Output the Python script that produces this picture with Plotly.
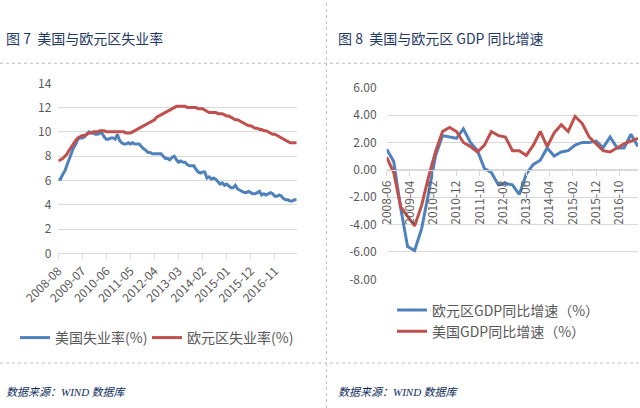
import plotly.graph_objects as go

# ---------------- data ----------------
# Figure 7: monthly unemployment, 2008-08 .. 2017-09
us_unemp = [6.1, 6.1, 6.5, 6.8, 7.3,
            7.8, 8.3, 8.7, 9.0, 9.4, 9.5, 9.5, 9.6, 9.8, 10.0, 9.9, 9.9,
            9.8, 9.8, 9.9, 9.9, 9.6, 9.4, 9.4, 9.5, 9.5, 9.4, 9.8, 9.3,
            9.1, 9.0, 9.0, 9.1, 9.0, 9.1, 9.0, 9.0, 9.0, 8.8, 8.6, 8.5,
            8.3, 8.3, 8.2, 8.2, 8.2, 8.2, 8.2, 8.0, 7.8, 7.8, 7.7, 7.9,
            8.0, 7.7, 7.5, 7.6, 7.5, 7.5, 7.3, 7.2, 7.2, 7.2, 6.9, 6.7,
            6.6, 6.7, 6.7, 6.2, 6.3, 6.1, 6.2, 6.1, 5.9, 5.7, 5.8, 5.6,
            5.7, 5.5, 5.4, 5.4, 5.6, 5.3, 5.2, 5.1, 5.0, 5.0, 5.1, 5.0,
            4.9, 4.9, 5.0, 5.1, 4.8, 4.9, 4.8, 4.9, 5.0, 4.9, 4.7, 4.7,
            4.8, 4.7, 4.5, 4.4, 4.4, 4.3, 4.3, 4.4, 4.4]
ez_unemp = [7.6, 7.7, 7.8, 8.0, 8.2,
            8.5, 8.8, 9.1, 9.3, 9.5, 9.6, 9.7, 9.7, 9.8, 9.9, 9.9, 10.0,
            10.0, 10.0, 10.1, 10.1, 10.1, 10.0, 10.0, 10.0, 10.0, 10.0, 10.0, 10.0,
            10.0, 10.0, 9.9, 9.9, 9.9, 10.0, 10.1, 10.2, 10.3, 10.4, 10.5, 10.6,
            10.7, 10.8, 10.9, 11.0, 11.2, 11.3, 11.4, 11.5, 11.6, 11.7, 11.8, 11.9,
            12.0, 12.1, 12.1, 12.1, 12.1, 12.1, 12.0, 12.0, 12.0, 12.0, 12.0, 11.9,
            11.9, 11.9, 11.8, 11.7, 11.6, 11.6, 11.6, 11.6, 11.5, 11.5, 11.5, 11.4,
            11.3, 11.3, 11.2, 11.1, 11.0, 11.0, 10.9, 10.8, 10.7, 10.6, 10.5, 10.5,
            10.4, 10.3, 10.3, 10.2, 10.2, 10.1, 10.1, 10.0, 9.9, 9.8, 9.8, 9.7,
            9.6, 9.5, 9.4, 9.3, 9.2, 9.1, 9.1, 9.1, 9.1]
left_ticks = ["2008-08", "2009-07", "2010-06", "2011-05", "2012-04",
              "2013-03", "2014-02", "2015-01", "2015-12", "2016-11"]

# Figure 8: quarterly GDP yoy, 2008-06 .. 2017-06
ez_gdp = [1.5, 0.6, -2.8,
          -5.6, -5.9, -4.3, -1.7,
          1.0, 2.5, 2.4, 2.3,
          3.0, 2.0, 1.4, 0.1,
          -0.2, -1.1, -1.0, -1.1,
          -1.8, -0.3, 0.4, 0.7,
          1.6, 1.0, 1.3, 1.4,
          1.8, 2.0, 2.0, 2.1,
          1.6, 2.4, 1.6, 1.6,
          2.6, 1.7]
us_gdp = [0.9, -0.2, -2.7,
          -3.4, -4.1, -2.6, -0.5,
          1.3, 2.8, 3.1, 2.8,
          2.0, 1.7, 1.3, 1.8,
          2.8, 2.5, 2.4, 1.4,
          1.4, 1.05, 1.8, 2.8,
          1.7, 2.7, 3.3, 2.8,
          3.9, 3.4, 2.4, 1.9,
          1.4, 1.3, 1.6, 1.9,
          2.1, 2.3]
right_ticks = ["2008-06", "2009-04", "2010-02", "2010-12", "2011-10", "2012-08",
               "2013-06", "2014-04", "2015-02", "2015-12", "2016-10"]
right_y_vals = [6, 4, 2, 0, -2, -4, -6, -8]
right_y_text = ["6.00", "4.00", "2.00", "0.00", "-2.00", "-4.00", "-6.00", "-8.00"]


def month_seq(start_y, start_m, n, step=1):
    out = []
    y, m = start_y, start_m
    for _ in range(n):
        out.append("%04d-%02d-01" % (y, m))
        m += step
        while m > 12:
            m -= 12
            y += 1
    return out


left_x = month_seq(2008, 8, len(us_unemp))
right_x = month_seq(2008, 6, len(ez_gdp), 3)

# ---------------- styling ----------------
W, H = 640, 408
BLUE = "#4F81BD"
RED = "#C0504D"
GRID = "#D9D9D9"
TXT = "#595959"
NAVY = "#1F3A64"
FONT = "Noto Sans CJK SC, Noto Sans, sans-serif"


def px_x(x):
    return x / W


def px_y(y):
    return 1 - y / H


fig = go.Figure()

fig.add_trace(go.Scatter(x=left_x, y=us_unemp, mode="lines", name="美国失业率(%)",
                         line=dict(color=BLUE, width=3), xaxis="x", yaxis="y",
                         legend="legend"))
fig.add_trace(go.Scatter(x=left_x, y=ez_unemp, mode="lines", name="欧元区失业率(%)",
                         line=dict(color=RED, width=3), xaxis="x", yaxis="y",
                         legend="legend3"))
fig.add_trace(go.Scatter(x=right_x, y=ez_gdp, mode="lines", name="欧元区GDP同比增速（%）",
                         line=dict(color=BLUE, width=3), xaxis="x2", yaxis="y2",
                         legend="legend2"))
fig.add_trace(go.Scatter(x=right_x, y=us_gdp, mode="lines", name="美国GDP同比增速（%）",
                         line=dict(color=RED, width=3), xaxis="x2", yaxis="y2",
                         legend="legend2"))

# domains
l_x0, l_x1 = px_x(58.3), px_x(296.7)
l_y0, l_y1 = px_y(253.3), px_y(83.3)
r_x0, r_x1 = px_x(386.7), px_x(638.0)
r_y0, r_y1 = px_y(279.3), px_y(87.7)
r_zero = r_y0 + (0 - (-8)) / 14 * (r_y1 - r_y0)

tickfont = dict(family=FONT, size=12, color=TXT)
legfont = dict(family=FONT, size=14, color=TXT)

fig.update_layout(
    template="none",
    width=W, height=H, autosize=False,
    margin=dict(l=0, r=0, t=0, b=0, pad=0, autoexpand=False),
    paper_bgcolor="white", plot_bgcolor="white",
    font=dict(family=FONT, color=TXT),
    showlegend=True,
    xaxis=dict(domain=[l_x0, l_x1], anchor="y", type="date", automargin=False,
               range=[left_x[0], left_x[-1]],
               tickvals=[t + "-01" for t in left_ticks], ticktext=left_ticks,
               tickangle=-45, tickfont=tickfont,
               showgrid=False, showline=True, linecolor=GRID, linewidth=1,
               ticks="outside", ticklen=5, tickcolor=GRID, zeroline=False),
    yaxis=dict(domain=[l_y0, l_y1], anchor="x", range=[0, 14], dtick=2, automargin=False,
               tickfont=tickfont, showgrid=True, gridcolor=GRID, gridwidth=1,
               zeroline=False, showline=False, ticks="", ticklabelstandoff=6),
    xaxis2=dict(domain=[r_x0, r_x1], anchor="free", position=r_zero, type="date", automargin=False,
                range=[right_x[0], right_x[-1]],
                tickvals=[t + "-01" for t in right_ticks], ticktext=right_ticks,
                tickangle=-90, tickfont=tickfont,
                showgrid=False, showline=True, linecolor=GRID, linewidth=1,
                ticks="outside", ticklen=5, tickcolor=GRID, zeroline=False),
    yaxis2=dict(domain=[r_y0, r_y1], anchor="x2", range=[-8, 6], automargin=False,
                tickvals=right_y_vals, ticktext=right_y_text,
                tickfont=tickfont, showgrid=True, gridcolor=GRID, gridwidth=1,
                zeroline=False, showline=False, ticks="", ticklabelstandoff=9),
    legend=dict(orientation="h", x=px_x(15), xanchor="left", y=px_y(338), yanchor="middle",
                font=legfont, bgcolor="rgba(0,0,0,0)", itemwidth=30),
    legend3=dict(orientation="h", x=px_x(147), xanchor="left", y=px_y(338), yanchor="middle",
                 font=legfont, bgcolor="rgba(0,0,0,0)", itemwidth=30),
    legend2=dict(orientation="v", x=px_x(392), xanchor="left", y=px_y(321), yanchor="middle",
                 font=legfont, bgcolor="rgba(0,0,0,0)", itemwidth=30),
)

# titles
fig.add_annotation(text="图 7  美国与欧元区失业率", x=px_x(4), y=px_y(38), xref="paper", yref="paper",
                   xanchor="left", yanchor="middle", showarrow=False,
                   font=dict(family=FONT, size=14, color=NAVY))
fig.add_annotation(text="图 8  美国与欧元区 GDP 同比增速", x=px_x(336), y=px_y(38), xref="paper", yref="paper",
                   xanchor="left", yanchor="middle", showarrow=False,
                   font=dict(family=FONT, size=14, color=NAVY))
src = "数据来源：<span style=\"font-family:'Liberation Serif'\">WIND</span> 数据库"
for sx in (4, 336):
    fig.add_annotation(text=src, x=px_x(sx), y=px_y(391), xref="paper", yref="paper",
                       xanchor="left", yanchor="middle", showarrow=False,
                       font=dict(family=FONT, size=11, color="#0B2B5C", style="italic"))

# dashed separators
sep = dict(color="#BFBFBF", width=1, dash="dot")
fig.add_shape(type="line", xref="paper", yref="paper", x0=0, x1=1, y0=px_y(63.3), y1=px_y(63.3), line=sep)
fig.add_shape(type="line", xref="paper", yref="paper", x0=0, x1=1, y0=px_y(363), y1=px_y(363), line=sep)
fig.add_shape(type="line", xref="paper", yref="paper", x0=px_x(326.5), x1=px_x(326.5), y0=0, y1=1, line=sep)

fig.write_html("out.html", config={"displayModeBar": False},
               post_script="document.body.style.margin='0';document.body.style.padding='0';")
